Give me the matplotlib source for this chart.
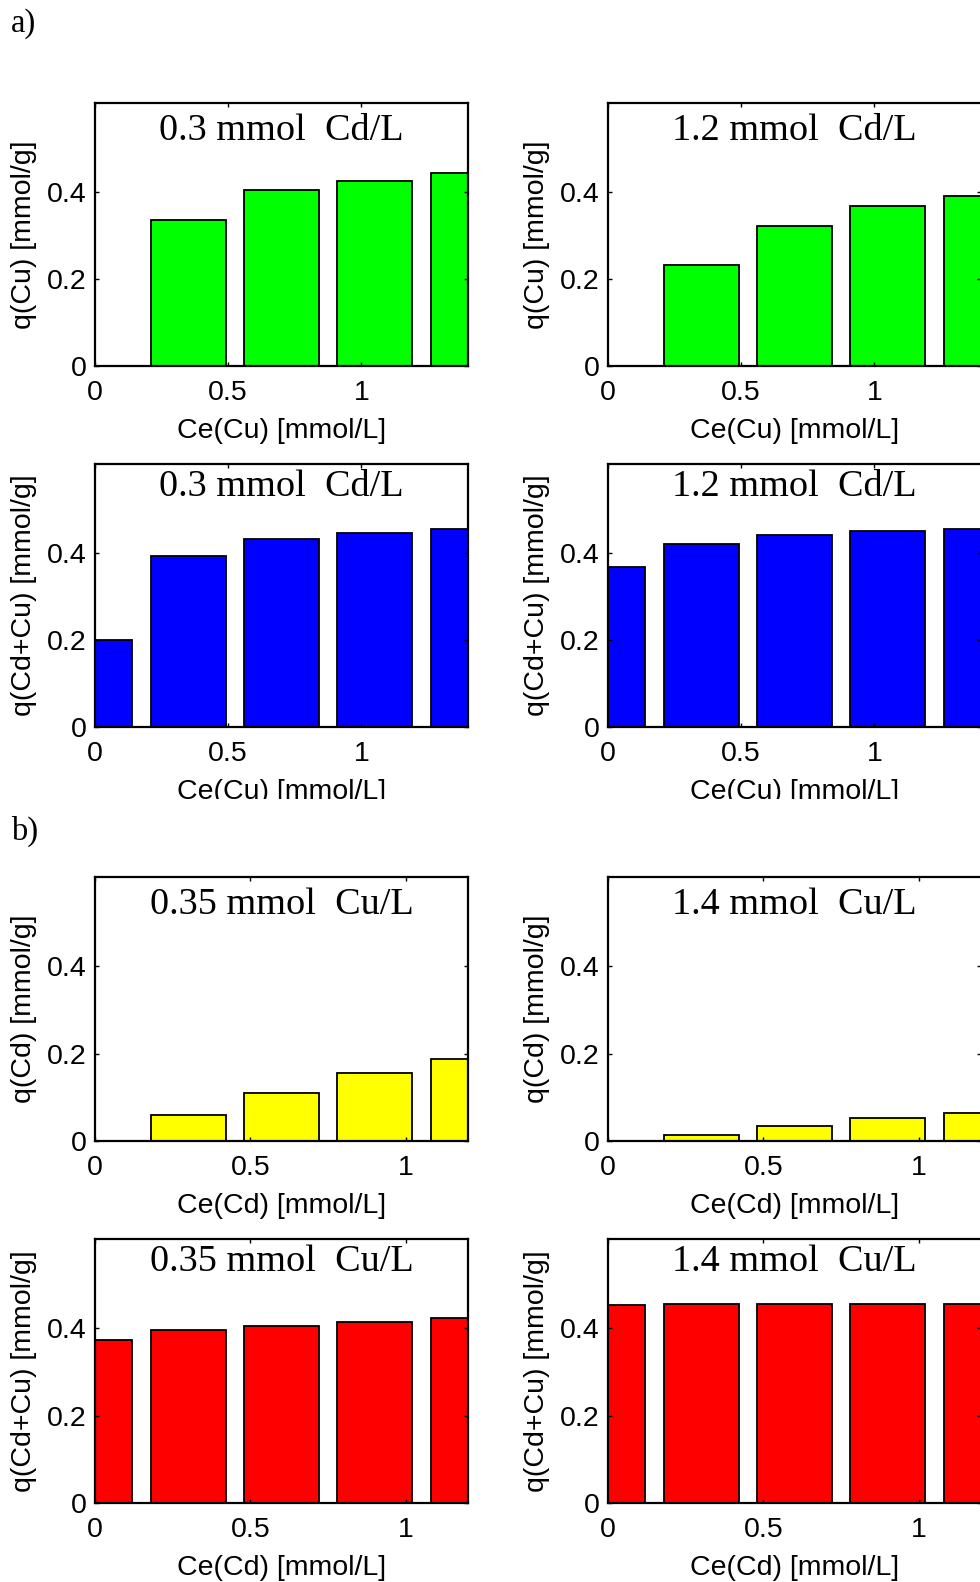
import matplotlib
matplotlib.use("Agg")
import matplotlib.pyplot as plt
from matplotlib.patches import Rectangle

plt.rcParams['font.family'] = ['Liberation Sans', 'DejaVu Sans']

## concentrations on the x axis
ce_cu = [0, 0.35, 0.7, 1.05, 1.4]
ce_cd = [0, 0.3, 0.6, 0.9, 1.2]

## a) Cu sorption with Cd present
q_cu_03cd = [0, 0.335, 0.405, 0.425, 0.443]
q_cu_12cd = [0, 0.232, 0.321, 0.367, 0.391]
q_tot_03cd = [0.2, 0.394, 0.432, 0.447, 0.456]
q_tot_12cd = [0.367, 0.422, 0.442, 0.452, 0.456]

## b) Cd sorption with Cu present
q_cd_035cu = [0, 0.06, 0.11, 0.156, 0.188]
q_cd_14cu = [0, 0.013, 0.034, 0.052, 0.064]
q_tot_035cu = [0.373, 0.396, 0.405, 0.414, 0.423]
q_tot_14cu = [0.453, 0.456, 0.456, 0.456, 0.456]

W, H = 980, 1582
fig = plt.figure(figsize=(W / 100, H / 100), dpi=100)

def add_ax(left, top, bottom, width=373):
    return fig.add_axes([left / W, 1 - bottom / H, width / W, (bottom - top) / H])

def panel(ax, x, q, step, color, title, title_y, xlab, ylab, xmax):
    ax.bar(x, q, width=0.8 * step, color=color, edgecolor='k', linewidth=1.3)
    ax.set_xlim(0, xmax)
    ax.set_ylim(0, 0.605)
    ax.set_xticks([0, 0.5, 1])
    ax.set_xticklabels(['0', '0.5', '1'])
    ax.set_yticks([0, 0.2, 0.4])
    ax.set_yticklabels(['0', '0.2', '0.4'])
    ax.tick_params(direction='in', length=3, width=1, labelsize=20.5,
                   top=True, right=True)
    ax.tick_params(axis='x', pad=10)
    ax.tick_params(axis='y', pad=6)
    for s in ax.spines.values():
        s.set_linewidth(1.6)
    ax.text(0.5, title_y, title, transform=ax.transAxes, ha='center',
            va='baseline', fontsize=27.5, family='Liberation Serif')
    ax.set_xlabel(xlab, fontsize=20.5)
    ax.set_ylabel(ylab, fontsize=20.5)
    ax.xaxis.set_label_coords(0.5, -0.198)
    ax.yaxis.set_label_coords(-0.155, 0.5)

rows = [(103, 366), (464, 727), (877, 1141), (1239, 1503)]
cols = [95, 608]

## a)
panel(add_ax(cols[0], *rows[0]), ce_cu, q_cu_03cd, 0.35, '#00ff00',
      '0.3 mmol  Cd/L', 0.86, 'Ce(Cu) [mmol/L]', 'q(Cu) [mmol/g]', 1.4)
panel(add_ax(cols[1], *rows[0]), ce_cu, q_cu_12cd, 0.35, '#00ff00',
      '1.2 mmol  Cd/L', 0.86, 'Ce(Cu) [mmol/L]', 'q(Cu) [mmol/g]', 1.4)
panel(add_ax(cols[0], *rows[1]), ce_cu, q_tot_03cd, 0.35, '#0000ff',
      '0.3 mmol  Cd/L', 0.88, 'Ce(Cu) [mmol/L]', 'q(Cd+Cu) [mmol/g]', 1.4)
panel(add_ax(cols[1], *rows[1]), ce_cu, q_tot_12cd, 0.35, '#0000ff',
      '1.2 mmol  Cd/L', 0.88, 'Ce(Cu) [mmol/L]', 'q(Cd+Cu) [mmol/g]', 1.4)

## b)
panel(add_ax(cols[0], *rows[2]), ce_cd, q_cd_035cu, 0.3, '#ffff00',
      '0.35 mmol  Cu/L', 0.86, 'Ce(Cd) [mmol/L]', 'q(Cd) [mmol/g]', 1.2)
panel(add_ax(cols[1], *rows[2]), ce_cd, q_cd_14cu, 0.3, '#ffff00',
      '1.4 mmol  Cu/L', 0.86, 'Ce(Cd) [mmol/L]', 'q(Cd) [mmol/g]', 1.2)
panel(add_ax(cols[0], *rows[3]), ce_cd, q_tot_035cu, 0.3, '#ff0000',
      '0.35 mmol  Cu/L', 0.88, 'Ce(Cd) [mmol/L]', 'q(Cd+Cu) [mmol/g]', 1.2)
panel(add_ax(cols[1], *rows[3]), ce_cd, q_tot_14cu, 0.3, '#ff0000',
      '1.4 mmol  Cu/L', 0.88, 'Ce(Cd) [mmol/L]', 'q(Cd+Cu) [mmol/g]', 1.2)

# strip under the a) block, the lower x labels are cut there
fig.patches.append(Rectangle((0, 1 - 815 / H), 1, 16 / H, transform=fig.transFigure,
                             facecolor='white', edgecolor='none', zorder=10))

fig.text(11 / W, 1 - 32 / H, 'a)', fontsize=23.5, family='Liberation Serif',
         va='baseline', zorder=11)
fig.text(11 / W, 1 - 840 / H, 'b)', fontsize=23.5, family='Liberation Serif',
         va='baseline', zorder=11)

fig.savefig('out.png', dpi=100)
